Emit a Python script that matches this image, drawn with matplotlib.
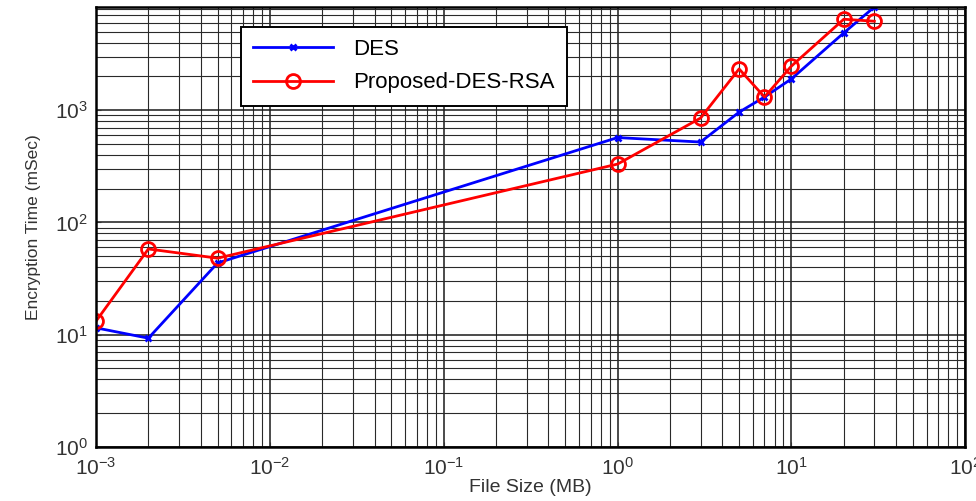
import matplotlib.pyplot as plt
import numpy as np

plt.rcParams['font.family'] = ['Liberation Sans', 'DejaVu Sans']

#file sizes (MB) and encryption times (mSec)
file_size = [0.001, 0.002, 0.005, 1, 3, 5, 7, 10, 20, 30]
des = [11.5, 9.3, 43.5, 570, 520, 960, 1310, 1900, 4880, 8300]
des_rsa = [13.2, 58, 48, 331, 850, 2330, 1310, 2470, 6460, 6200]

fig = plt.figure(figsize=(9.76, 5.01), dpi=100)
ax = fig.add_axes([0.0984, 0.108, 0.8906, 0.878])

ax.plot(file_size, des, color='#0000ff', lw=2, marker='x', ms=4, mew=2, label='DES')
ax.plot(file_size, des_rsa, color='#ff0000', lw=2, marker='o', ms=10, mfc='none', mew=2,
        label='Proposed-DES-RSA')

ax.set_xscale('log')
ax.set_yscale('log')
ax.set_xlim(1e-3, 1e2)
ax.set_ylim(1, 8300)

ax.grid(True, which='major', color='#1a1a1a', lw=1.1, ls='-')
ax.grid(True, which='minor', color='#2a2a2a', lw=0.8, ls='-')
ax.tick_params(which='both', direction='in', labelsize=15, colors='#333333')
ax.tick_params(axis='x', pad=7)
ax.tick_params(axis='y', pad=6)
for s in ax.spines.values():
    s.set_linewidth(1.8)
    s.set_color('black')

ax.set_xlabel('File Size (MB)', fontsize=14, color='#333333', labelpad=0)
ax.set_ylabel('Encryption Time (mSec)', fontsize=12.5, color='#333333', labelpad=10)

leg = ax.legend(loc='upper left', bbox_to_anchor=(0.154, 0.98), fontsize=16,
                fancybox=False, framealpha=1, edgecolor='black', handlelength=3.6,
                borderpad=0.55, labelspacing=0.55, handletextpad=0.9)
leg.get_frame().set_linewidth(1.4)

plt.savefig('out.png', dpi=100)
